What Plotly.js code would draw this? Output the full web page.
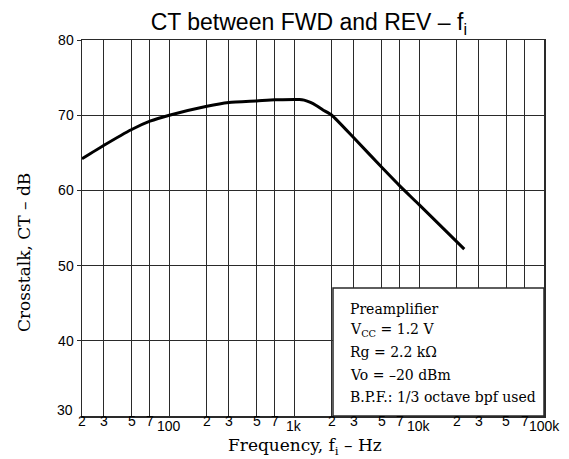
<!DOCTYPE html>
<html>
<head>
<meta charset="utf-8">
<script src="https://cdn.plot.ly/plotly-3.0.1.min.js"></script>
<style>html,body{margin:0;padding:0;background:#fff;}#chart{width:569px;height:459px;}</style>
</head>
<body>
<div id="chart"></div>
<script>
// Data
var frequencyHz = [20, 30, 50, 70, 100, 200, 300, 500, 700, 1000, 1100, 1200, 1350, 1500, 1700, 2000, 3000, 5000, 7000, 10000, 23000];
var crosstalkDb = [64.2, 66.0, 68.1, 69.2, 70.0, 71.2, 71.7, 71.9, 72.05, 72.1, 72.1, 72.0, 71.7, 71.3, 70.7, 70.0, 67.0, 63.1, 60.6, 58.1, 52.2];

var xTickVals = [20, 30, 50, 70, 100, 200, 300, 500, 700, 1000, 2000, 3000, 5000, 7000, 10000, 20000, 30000, 50000, 70000, 100000];
var digitVals = [20, 30, 50, 70, 200, 300, 500, 700, 2000, 3000, 5000, 7000, 20000, 30000, 50000, 70000];
var digitText = ['2', '3', '5', '7', '2', '3', '5', '7', '2', '3', '5', '7', '2', '3', '5', '7'];
var decadeVals = [100, 1000, 10000, 100000];
var decadeText = ['100', '1k', '10k', '100k'];
var yTickVals = [40, 50, 60, 70, 80];
var yTickText = ['40', '50', '60', '70', '80'];
var yBottomLabel = '30';

var chartTitle = 'CT between FWD and REV \u2013 f<sub>i</sub>';
var xTitle = 'Frequency, f<sub>i</sub> \u2013 Hz';
var yTitle = 'Crosstalk, CT \u2013 dB';
var noteLines = ['Preamplifier', 'V<sub>CC</sub> = 1.2 V', 'Rg = 2.2 k\u03A9', 'Vo = \u201320 dBm', 'B.P.F.: 1/3 octave bpf used'];

var sans = 'Liberation Sans, Arial, sans-serif';
var serif = 'DejaVu Serif, serif';
var gridCol = '#2a2a2a';

var annotations = [];
digitVals.forEach(function (v, i) {
  annotations.push({
    x: Math.log10(v), xref: 'x', y: 0, yref: 'paper',
    text: digitText[i], showarrow: false, xanchor: 'center', yanchor: 'middle',
    yshift: -5, font: {family: sans, size: 14, color: '#000'}
  });
});
decadeVals.forEach(function (v, i) {
  annotations.push({
    x: Math.log10(v), xref: 'x', y: 0, yref: 'paper',
    text: decadeText[i], showarrow: false, xanchor: 'center', yanchor: 'middle',
    yshift: -10, font: {family: sans, size: 14, color: '#000'}
  });
});
annotations.push({
  x: 0, xref: 'paper', y: 30, yref: 'y', text: yBottomLabel, showarrow: false,
  xanchor: 'right', yanchor: 'middle', xshift: -7, yshift: 6,
  font: {family: sans, size: 14, color: '#000'}
});
annotations.push({
  x: -0.1255, xref: 'paper', y: 0.4335, yref: 'paper', text: yTitle, textangle: -90,
  showarrow: false, xanchor: 'center', yanchor: 'middle',
  font: {family: serif, size: 17, color: '#000'}
});
annotations.push({
  x: 0.483, xref: 'paper', y: -0.082, yref: 'paper', text: xTitle,
  showarrow: false, xanchor: 'center', yanchor: 'middle',
  font: {family: serif, size: 17, color: '#000'}
});
var noteY = [309, 330, 352, 375, 397];
noteLines.forEach(function (t, i) {
  annotations.push({
    x: 0.576, xref: 'paper', y: (416 - noteY[i]) / 376, yref: 'paper', text: t,
    showarrow: false, xanchor: 'left', yanchor: 'middle',
    font: {family: serif, size: 14, color: '#000'}
  });
});

var trace = {
  x: frequencyHz, y: crosstalkDb, type: 'scatter', mode: 'lines',
  line: {color: '#000', width: 3, shape: 'spline', smoothing: 0.5},
  hoverinfo: 'skip'
};

var layout = {
  width: 569, height: 459,
  margin: {l: 82, r: 25, t: 40, b: 43},
  paper_bgcolor: '#fff', plot_bgcolor: '#fff',
  showlegend: false,
  title: {
    text: chartTitle, x: 0.491, xref: 'paper', xanchor: 'center',
    y: 0.952, yref: 'container', yanchor: 'middle',
    font: {family: sans, size: 23, color: '#000'}
  },
  xaxis: {
    type: 'log', range: [Math.log10(20), Math.log10(100000)],
    tickmode: 'array', tickvals: xTickVals, showticklabels: false,
    showgrid: true, gridcolor: gridCol, gridwidth: 1,
    showline: true, mirror: true, linecolor: gridCol, linewidth: 1.5,
    ticks: '', zeroline: false
  },
  yaxis: {
    range: [30, 80], tickmode: 'array', tickvals: yTickVals, ticktext: yTickText,
    showgrid: true, gridcolor: gridCol, gridwidth: 1,
    showline: true, mirror: true, linecolor: gridCol, linewidth: 1.5,
    ticks: 'outside', ticklen: 4, tickcolor: gridCol, zeroline: false,
    tickfont: {family: sans, size: 14, color: '#000'}
  },
  shapes: [{
    type: 'rect', xref: 'paper', yref: 'paper',
    x0: (333 - 82) / 462, x1: 1, y0: 0, y1: (416 - 288) / 376,
    fillcolor: '#fff', line: {color: gridCol, width: 1.5}, layer: 'above'
  }],
  annotations: annotations
};

Plotly.newPlot('chart', [trace], layout, {staticPlot: true, displayModeBar: false});
</script>
</body>
</html>
